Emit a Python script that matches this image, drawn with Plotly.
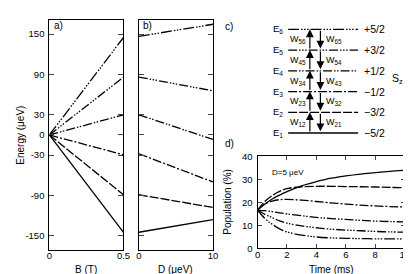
import plotly.graph_objects as go

W, H = 411, 274

# ---------------- data ----------------
sz_labels = ["−5/2", "−3/2", "−1/2", "+1/2", "+3/2", "+5/2"]
e_labels = ["E<sub>1</sub>", "E<sub>2</sub>", "E<sub>3</sub>", "E<sub>4</sub>", "E<sub>5</sub>", "E<sub>6</sub>"]
levels = [1, 2, 3, 4, 5, 6]

# panel a: energy vs B (T)
B_vals = [0, 0.5]
E_B0 = [0, 0, 0, 0, 0, 0]
E_B05 = [-145, -89, -29.5, 30, 86, 145]

# panel b: energy vs D (ueV) at B = 0.5 T
D_vals = [0, 10]
E_D0 = [-144.8, -89, -28, 30, 86.1, 146.7]
E_D10 = [-126, -108, -70, -6.7, 65.7, 164.7]

# panel c: transition labels
w_up = ["W<sub>12</sub>", "W<sub>23</sub>", "W<sub>34</sub>", "W<sub>45</sub>", "W<sub>56</sub>"]
w_down = ["W<sub>21</sub>", "W<sub>32</sub>", "W<sub>43</sub>", "W<sub>54</sub>", "W<sub>65</sub>"]

# panel d: population (%) vs time (ms), D = 5 ueV
t_ms = [0, 0.5, 1, 1.5, 2, 3, 4, 5, 6, 7, 8, 9, 10]
pop_E1 = [16.7, 19.3, 21.5, 23.2, 24.7, 27.2, 29.0, 30.5, 31.5, 32.3, 32.9, 33.5, 34.0]
pop_E2 = [16.7, 20.5, 23.0, 24.8, 26.0, 26.8, 27.0, 27.0, 26.9, 26.8, 26.7, 26.5, 26.4]
pop_E3 = [16.7, 19.3, 20.6, 21.2, 21.3, 21.0, 20.4, 19.8, 19.3, 18.8, 18.5, 18.2, 18.0]
pop_E4 = [16.7, 16.4, 16.0, 15.5, 15.0, 14.2, 13.5, 13.0, 12.6, 12.2, 11.9, 11.7, 11.5]
pop_E5 = [16.7, 14.8, 13.4, 12.0, 11.0, 9.8, 9.0, 8.4, 8.0, 7.7, 7.4, 7.2, 7.1]
pop_E6 = [16.7, 13.0, 10.5, 8.5, 7.2, 5.8, 5.0, 4.6, 4.4, 4.3, 4.2, 4.2, 4.1]
pops = [pop_E1, pop_E2, pop_E3, pop_E4, pop_E5, pop_E6]

energy_ticks = [-150, -90, -30, 0, 30, 90, 150]
energy_ticktext = ["-150", "-90", "-30", "0", "30", "90", "150"]

# ---------------- styles ----------------
dashes = [
    "solid",
    "9px,2px",
    "9px,2px,2px,2px",
    "9px,2px,1.5px,1.5px,1.5px,2px",
    "9px,2px,1.5px,1.5px,1.5px,1.5px,1.5px,2px",
    "11px,2px,1.5px,1.5px,1.5px,1.5px,1.5px,2px",
]
FONT = "Liberation Sans, Arial, sans-serif"
LW = 1.3


def fx(px):
    return px / W


def fy(py):
    return 1 - py / H


fig = go.Figure()

# panel a
for i in range(6):
    fig.add_trace(go.Scatter(x=B_vals, y=[E_B0[i], E_B05[i]], mode="lines",
                             line=dict(color="black", width=LW, dash=dashes[i]),
                             xaxis="x", yaxis="y", showlegend=False))
# panel b
for i in range(6):
    fig.add_trace(go.Scatter(x=D_vals, y=[E_D0[i], E_D10[i]], mode="lines",
                             line=dict(color="black", width=LW, dash=dashes[i]),
                             xaxis="x2", yaxis="y2", showlegend=False))
# panel d
for i in range(6):
    fig.add_trace(go.Scatter(x=t_ms, y=pops[i], mode="lines",
                             line=dict(color="black", width=LW, dash=dashes[i], shape="spline"),
                             xaxis="x3", yaxis="y3", showlegend=False))
# panel c levels
for i in range(6):
    fig.add_trace(go.Scatter(x=[0, 1], y=[levels[i], levels[i]], mode="lines",
                             line=dict(color="black", width=LW, dash=dashes[i]),
                             xaxis="x4", yaxis="y4", showlegend=False))

axis_common = dict(showline=True, linecolor="black", linewidth=1, mirror=True,
                   showgrid=False, zeroline=False,
                   tickfont=dict(family=FONT, size=9.5, color="black"))

ya_dom = [fy(246), fy(6)]
fig.update_layout(
    width=W, height=H, autosize=False,
    margin=dict(l=0, r=0, t=0, b=0),
    paper_bgcolor="white", plot_bgcolor="white",
    font=dict(family=FONT, color="black"),
    xaxis=dict(domain=[fx(39.3), fx(115.3)], range=[0, 0.5], tickvals=[0, 0.5],
               ticktext=["0", "0.5"], ticks="", anchor="y", ticklabelstandoff=-4,
               **axis_common),
    yaxis=dict(domain=ya_dom, range=[-171.4, 171.4], tickvals=energy_ticks,
               ticktext=energy_ticktext, ticks="inside", ticklen=5, anchor="x",
               ticklabelstandoff=2,
               **{**axis_common, "mirror": "ticks"}),
    xaxis2=dict(domain=[fx(131), fx(207)], range=[0, 10], tickvals=[0, 10],
                ticks="", anchor="y2", ticklabelstandoff=-4, **axis_common),
    yaxis2=dict(domain=ya_dom, range=[-171.4, 171.4], tickvals=energy_ticks,
                showticklabels=False, ticks="inside", ticklen=5, anchor="x2",
                **{**axis_common, "mirror": "ticks"}),
    xaxis3=dict(domain=[fx(252.7), fx(403.5)], range=[0, 10], dtick=2, tick0=0,
                ticks="inside", ticklen=4, anchor="y3", ticklabelstandoff=-3,
                ticklabeloverflow="allow",
                **{**axis_common, "mirror": "ticks"}),
    yaxis3=dict(domain=[fy(244.3), fy(148.3)], range=[0, 40], dtick=10, tick0=0,
                ticks="inside", ticklen=4, anchor="x3", ticklabelstandoff=2,
                **{**axis_common, "mirror": "ticks"}),
    xaxis4=dict(domain=[fx(284), fx(356)], range=[0, 1], visible=False, anchor="y4"),
    yaxis4=dict(domain=[fy(134.8), fy(5.2)], range=[0.5, 6.5], visible=False, anchor="x4"),
)

ann = []


def txt(text, x, y, size=10, xanchor="center", yanchor="middle", angle=0,
        xref="paper", yref="paper"):
    ann.append(dict(text=text, x=x, y=y, xref=xref, yref=yref, showarrow=False,
                    xanchor=xanchor, yanchor=yanchor, textangle=angle,
                    font=dict(family=FONT, size=size, color="black")))


# panel labels
txt("a)", fx(42), fy(12), xanchor="left")
txt("b)", fx(133), fy(12), xanchor="left")
txt("c)", fx(217), fy(13), xanchor="left")
txt("d)", fx(217), fy(135), xanchor="left")
# axis titles
txt("Energy (μeV)", fx(10), fy(126), angle=-90)
txt("B (T)", fx(77), fy(266))
txt("D (μeV)", fx(169), fy(266))
txt("Time (ms)", fx(328), fy(266))
txt("Population (%)", fx(222), fy(196), angle=-90)
txt("D=5 μeV", fx(265), fy(165), size=8, xanchor="left")

# panel c labels
for i in range(6):
    txt(e_labels[i], fx(281), levels[i], size=9.5, xanchor="right", yref="y4")
    txt(sz_labels[i], fx(360), levels[i], size=10.5, xanchor="left", yref="y4")
txt("S<sub>z</sub>", fx(388), 3.6, size=10.5, xanchor="left", yref="y4")

x_up, x_down = 0.31, 0.46
for i in range(5):
    mid = (levels[i] + levels[i + 1]) / 2
    txt(w_up[i], fx(304), mid, size=9, xanchor="right", yref="y4")
    txt(w_down[i], fx(321), mid, size=9, xanchor="left", yref="y4")
    ann.append(dict(x=x_up, y=levels[i + 1], ax=x_up, ay=levels[i],
                    xref="x4", yref="y4", axref="x4", ayref="y4",
                    showarrow=True, arrowhead=2, arrowsize=1.3, arrowwidth=1.2,
                    arrowcolor="black", text=""))
    ann.append(dict(x=x_down, y=levels[i] + 0.08, ax=x_down, ay=levels[i + 1],
                    xref="x4", yref="y4", axref="x4", ayref="y4",
                    showarrow=True, arrowhead=2, arrowsize=1.3, arrowwidth=1.2,
                    arrowcolor="black", text=""))

fig.update_layout(annotations=ann)
fig.write_html("out.html")
